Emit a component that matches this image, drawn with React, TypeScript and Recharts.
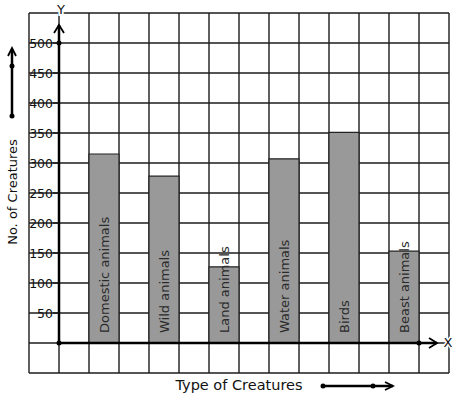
import React from 'react';
import { ComposedChart, Bar, XAxis, YAxis, CartesianGrid, ReferenceLine, ReferenceDot, LabelList } from 'recharts';

// values
const creatures = ['Domestic animals', 'Wild animals', 'Land animals', 'Water animals', 'Birds', 'Beast animals'];
const counts = [315, 278, 127, 307, 351, 153];
const yTicks = [-50, 0, 50, 100, 150, 200, 250, 300, 350, 400, 450, 500, 550];
const gridCols = [0, 1, 2, 3, 4, 5, 6, 7, 8, 9, 10, 11, 12, 13, 14];

// 14 grid columns; a bar sits in every second column starting at the third
const data = gridCols.slice(0, 14).map((c, i) => {
    const k = (i - 2) / 2;
    const has = i >= 2 && i % 2 === 0 && k < creatures.length;
    return { slot: `s${i}`, col: c, name: has ? creatures[k] : '', value: has ? counts[k] : null };
});

const FONT = '"DejaVu Sans", sans-serif';

const YTick = (props: any) => {
    const { x, y, payload } = props;
    const v = payload.value;
    if (v < 50 || v > 500) return null;
    return (
        <g>
            <text x={x + 24} y={y} textAnchor="end" dominantBaseline="central" fontSize={12.5} fontFamily={FONT} fill="#111">
                {v}
            </text>
            <line x1={x + 24} x2={x + 30} y1={y} y2={y} stroke="#111" strokeWidth={1.3} />
        </g>
    );
};

const BarText = (props: any) => {
    const { x, y, width, height, value } = props;
    if (!value) return null;
    const cx = x + width / 2;
    const by = y + height - 10;
    return (
        <text x={cx} y={by} transform={`rotate(-90 ${cx} ${by})`} dominantBaseline="central"
            fontSize={13} fontFamily={FONT} fill="#2a2a2a">
            {value}
        </text>
    );
};

const Arrow = (props: any) => {
    const { x1, y1, x2, y2 } = props;
    const len = Math.hypot(x2 - x1, y2 - y1) || 1;
    const ux = (x2 - x1) / len;
    const uy = (y2 - y1) / len;
    const a = 8, w = 5;
    return (
        <g>
            <line x1={x1} y1={y1} x2={x2} y2={y2} stroke="#000" strokeWidth={2.5} />
            <polyline
                points={`${x2 - ux * a - uy * w},${y2 - uy * a + ux * w} ${x2},${y2} ${x2 - ux * a + uy * w},${y2 - uy * a - ux * w}`}
                fill="none" stroke="#000" strokeWidth={1.8} />
        </g>
    );
};

const App: React.FC = () => {
    return (
        <div style={{ position: 'absolute', left: 0, top: 0, width: 457, height: 399, background: '#fff' }}>
            <ComposedChart width={457} height={399} data={data} margin={{ top: 13, right: 8, bottom: 26, left: 0 }}
                barCategoryGap={0} barGap={0}>
                <XAxis xAxisId="cat" dataKey="slot" hide />
                <XAxis xAxisId="grid" dataKey="col" type="number" domain={[0, 14]} ticks={gridCols} allowDataOverflow hide />
                <YAxis domain={[-50, 550]} ticks={yTicks} width={29} tickSize={0} tickMargin={0}
                    axisLine={false} tickLine={false} tick={<YTick />} interval={0} allowDataOverflow />
                <CartesianGrid xAxisId="grid" stroke="#1c1c1c" strokeWidth={1.4} strokeOpacity={1} />
                <Bar xAxisId="cat" dataKey="value" fill="#999999" stroke="#222" strokeWidth={1.2} isAnimationActive={false}>
                    <LabelList dataKey="name" content={<BarText />} />
                </Bar>
                <ReferenceLine xAxisId="grid" segment={[{ x: 1, y: 0 }, { x: 1, y: 530 }]} shape={Arrow} />
                <ReferenceLine xAxisId="grid" segment={[{ x: 1, y: 0 }, { x: 13.6, y: 0 }]} shape={Arrow} />
                <ReferenceDot xAxisId="grid" x={1} y={0} r={2.5} fill="#000" stroke="none" />
                <ReferenceDot xAxisId="grid" x={1} y={500} r={2.5} fill="#000" stroke="none" />
                <ReferenceDot xAxisId="grid" x={13} y={0} r={2.5} fill="#000" stroke="none" />
            </ComposedChart>
            <svg width={457} height={399} style={{ position: 'absolute', left: 0, top: 0, pointerEvents: 'none' }}>
                <text x={61} y={9} textAnchor="middle" dominantBaseline="central" fontSize={13} fontFamily={FONT}
                    fill="#111" stroke="#fff" strokeWidth={4} paintOrder="stroke">Y</text>
                <text x={448} y={342} textAnchor="middle" dominantBaseline="central" fontSize={13} fontFamily={FONT}
                    fill="#111" stroke="#fff" strokeWidth={3} paintOrder="stroke">X</text>
                {/* y axis title with arrow */}
                <text x={12} y={192} transform="rotate(-90 12 192)" textAnchor="middle" dominantBaseline="central"
                    fontSize={13} fontFamily={FONT} fill="#111">No. of Creatures</text>
                <line x1={12} y1={116} x2={12} y2={49} stroke="#000" strokeWidth={2.5} />
                <polyline points="8,56 12,48 16,56" fill="none" stroke="#000" strokeWidth={1.8} />
                <circle cx={12} cy={66} r={2.5} fill="#000" />
                <circle cx={12} cy={116} r={2.5} fill="#000" />
                {/* x axis title with arrow */}
                <text x={239} y={385} textAnchor="middle" dominantBaseline="central" fontSize={14.5} fontFamily={FONT}
                    fill="#111">Type of Creatures</text>
                <line x1={323} y1={386} x2={393} y2={386} stroke="#000" strokeWidth={2.5} />
                <polyline points="385,382 393,386 385,390" fill="none" stroke="#000" strokeWidth={1.8} />
                <circle cx={323} cy={386} r={2.5} fill="#000" />
                <circle cx={373} cy={386} r={2.5} fill="#000" />
            </svg>
        </div>
    );
};

export default App;
